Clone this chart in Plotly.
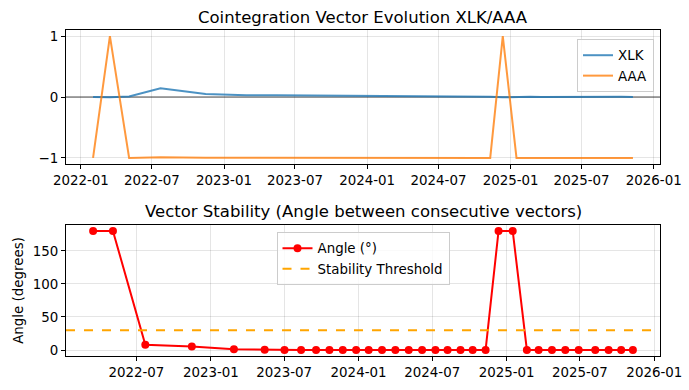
import plotly.graph_objects as go

# ---- data ----
vector_dates = ["2022-02-01", "2022-03-16", "2022-05-04", "2022-07-23", "2022-11-15",
                "2023-02-27", "2023-05-14", "2023-07-02", "2023-08-12", "2023-09-18",
                "2023-10-21", "2023-11-23", "2023-12-26", "2024-01-26", "2024-02-28",
                "2024-04-01", "2024-05-04", "2024-06-06", "2024-07-09", "2024-08-08",
                "2024-09-09", "2024-10-09", "2024-11-10", "2024-12-12", "2025-01-16",
                "2025-02-20", "2025-03-21", "2025-04-23", "2025-05-26", "2025-06-28",
                "2025-08-08", "2025-09-10", "2025-10-11", "2025-11-09"]
xlk_values = [0.002, -0.003, 0.010, 0.145, 0.050, 0.030, 0.028, 0.027, 0.025, 0.022,
              0.020, 0.018, 0.016, 0.015, 0.014, 0.013, 0.012, 0.011, 0.010, 0.009,
              0.008, 0.007, 0.006, -0.005, 0.004, 0.003, 0.002, 0.004, 0.006, 0.005,
              0.004, 0.003, 0.003, 0.002]
aaa_values = [-1.0, 1.0, -1.0, -0.989, -0.999, -1.0, -1.0, -1.0, -1.0, -1.0,
              -1.0, -1.0, -1.0, -1.0, -1.0, -1.0, -1.0, -1.0, -1.0, -1.0,
              -1.0, -1.0, -1.0, 1.0, -1.0, -1.0, -1.0, -1.0, -1.0, -1.0,
              -1.0, -1.0, -1.0, -1.0]
angle_dates = vector_dates[1:]
angle_values = [180, 180, 8, 5.5, 1.2, 0.3, 0.1, 0.1, 0.2, 0.2,
                0.1, 0.1, 0.1, 0.1, 0.1, 0.1, 0.1, 0.1, 0.1, 0.1,
                0.1, 0.1, 180, 180, 0.2, 0.1, 0.2, 0.1, 0.1, 0.1,
                0.1, 0.1, 0.1]
stability_threshold = 30
top_ticks = ["2022-01-01", "2022-07-01", "2023-01-01", "2023-07-01", "2024-01-01",
             "2024-07-01", "2025-01-01", "2025-07-01", "2026-01-01"]
bottom_ticks = top_ticks[1:]

FONT = "DejaVu Sans"
TICK = 13.4
BLUE = "rgba(31,119,180,0.8)"
ORANGE = "rgba(255,127,14,0.8)"

fig = go.Figure()

fig.add_trace(go.Scatter(x=vector_dates, y=xlk_values, mode="lines", name="XLK",
                         line=dict(color=BLUE, width=2), xaxis="x", yaxis="y",
                         legend="legend"))
fig.add_trace(go.Scatter(x=vector_dates, y=aaa_values, mode="lines", name="AAA",
                         line=dict(color=ORANGE, width=2), xaxis="x", yaxis="y",
                         legend="legend"))

fig.add_trace(go.Scatter(x=angle_dates, y=angle_values, mode="lines+markers",
                         name="Angle (°)", line=dict(color="red", width=2),
                         marker=dict(color="red", size=8), xaxis="x2", yaxis="y2",
                         legend="legend2"))
fig.add_trace(go.Scatter(x=[None], y=[None], mode="lines", name="Stability Threshold",
                         line=dict(color="orange", width=2, dash="dash"),
                         xaxis="x2", yaxis="y2", legend="legend2"))

# zero line (top) and threshold (bottom)
fig.add_shape(type="line", xref="x domain", yref="y", x0=0, x1=1, y0=0, y1=0,
              line=dict(color="rgba(128,128,128,0.7)", width=2), layer="below")
fig.add_shape(type="line", xref="x2 domain", yref="y2", x0=0, x1=1,
              y0=stability_threshold, y1=stability_threshold,
              line=dict(color="orange", width=2, dash="dash"))

W, H = 689, 390
xd = [66 / W, 660 / W]
axis_common = dict(showline=True, linecolor="black", linewidth=1, mirror=True,
                   ticks="outside", ticklen=4, tickcolor="black", automargin=False,
                   gridcolor="rgba(0,0,0,0.1)", gridwidth=1, zeroline=False,
                   tickfont=dict(family=FONT, size=TICK, color="black"))

fig.update_layout(
    width=W, height=H,
    margin=dict(l=0, r=0, t=0, b=0, autoexpand=False),
    paper_bgcolor="white", plot_bgcolor="white",
    font=dict(family=FONT, size=TICK, color="black"),
    xaxis=dict(domain=xd, anchor="y", type="date",
               range=["2021-11-24", "2026-01-17"],
               tickvals=top_ticks, tickformat="%Y-%m", **axis_common),
    yaxis=dict(domain=[(H - 164) / H, (H - 30) / H], anchor="x",
               range=[-1.1, 1.1], tickvals=[-1, 0, 1], ticktext=["\u22121", "0", "1"],
               **axis_common),
    xaxis2=dict(domain=xd, anchor="y2", type="date",
                range=["2022-01-08", "2026-01-15"],
                tickvals=bottom_ticks, tickformat="%Y-%m", **axis_common),
    yaxis2=dict(domain=[(H - 356) / H, (H - 225) / H], anchor="x2",
                range=[-9, 189], tickvals=[0, 50, 100, 150],
                title=dict(text="Angle (degrees)", standoff=6,
                           font=dict(family=FONT, size=TICK)),
                **axis_common),
    legend=dict(x=654 / W, xanchor="right", y=(H - 39) / H, yanchor="top",
                bgcolor="rgba(255,255,255,0.8)", bordercolor="#cccccc", borderwidth=1,
                font=dict(family=FONT, size=TICK), tracegroupgap=0),
    legend2=dict(x=363 / W, xanchor="center", y=(H - 232) / H, yanchor="top",
                 bgcolor="rgba(255,255,255,0.8)", bordercolor="#cccccc", borderwidth=1,
                 font=dict(family=FONT, size=TICK), tracegroupgap=0),
    annotations=[
        dict(text="Cointegration Vector Evolution XLK/AAA", xref="paper", yref="paper",
             x=363 / W, y=(H - 18) / H, xanchor="center", yanchor="middle",
             showarrow=False, font=dict(family=FONT, size=16.5, color="black")),
        dict(text="Vector Stability (Angle between consecutive vectors)", xref="paper",
             yref="paper", x=363 / W, y=(H - 211) / H, xanchor="center",
             yanchor="middle", showarrow=False,
             font=dict(family=FONT, size=16.5, color="black")),
    ],
)

fig.write_html("out.html", config={"displayModeBar": False},
               post_script="document.body.style.margin='0';document.body.style.padding='0';")
